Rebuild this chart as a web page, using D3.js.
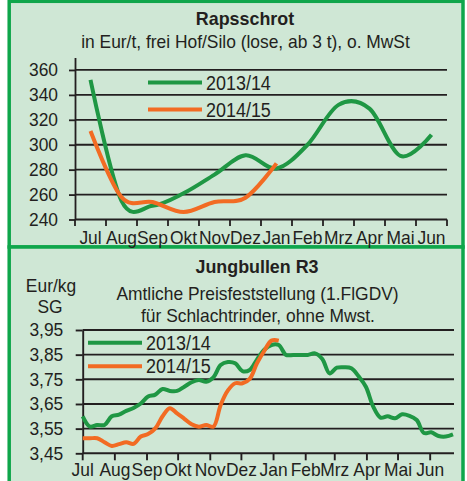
<!DOCTYPE html>
<html>
<head>
<meta charset="utf-8">
<script src="https://cdn.jsdelivr.net/npm/d3@7/dist/d3.min.js"></script>
<style>
  body { margin: 0; background: #fff; }
  text { font-family: "Liberation Sans", Arial, sans-serif; fill: #231f20; }
</style>
</head>
<body>
<div id="chart"></div>
<script>
// month labels (same for both panels)
var monthLabels = ["Jul", "Aug", "Sep", "Okt", "Nov", "Dez", "Jan", "Feb", "Mrz", "Apr", "Mai", "Jun"];

// Rapsschrot, Eur/t, monthly
var raps1314 = [352, 255, 251, 261, 276, 291.5, 281, 300, 332, 329, 291, 308];
var raps1415 = [311, 258, 254, 246, 254, 257.5, 285];
var rapsTicks = [240, 260, 280, 300, 320, 340, 360];

// Jungbullen R3, Eur/kg SG, weekly from 1 Jul
var bull1314 = [3.60, 3.558, 3.565, 3.565, 3.60, 3.607, 3.622, 3.634, 3.652, 3.68,
    3.688, 3.711, 3.703, 3.703, 3.72, 3.738, 3.747, 3.74, 3.758, 3.808,
    3.82, 3.815, 3.783, 3.788, 3.83, 3.87, 3.889, 3.889, 3.849, 3.849,
    3.849, 3.849, 3.855, 3.832, 3.774, 3.797, 3.799, 3.795, 3.762, 3.72,
    3.64, 3.595, 3.60, 3.592, 3.608, 3.602, 3.585, 3.532, 3.535, 3.52,
    3.518, 3.527];
var bull1415 = [3.511, 3.511, 3.511, 3.495, 3.48, 3.487, 3.495, 3.488, 3.518, 3.528,
    3.551, 3.60, 3.633, 3.612, 3.59, 3.568, 3.558, 3.565, 3.558, 3.646,
    3.705, 3.734, 3.734, 3.752, 3.815, 3.865, 3.907, 3.907];
var bullTicks = [3.45, 3.55, 3.65, 3.75, 3.85, 3.95];

var seriesNames = ["2013/14", "2014/15"];

var frameColor = "#0fa64b";
var bgColor = "#cfe7d5";
var greenColor = "#1f9744";
var orangeColor = "#f26b23";
var inkColor = "#231f20";
var squeezeFactor = 0.94;

var svg = d3.select("#chart")
    .append("svg")
    .attr("width", 467)
    .attr("height", 481);

// squeeze text horizontally (narrow font look)
function squeeze(sel, k) {
    sel.each(function () {
        var w = this.getComputedTextLength();
        d3.select(this)
            .attr("textLength", w * (k || squeezeFactor))
            .attr("lengthAdjust", "spacingAndGlyphs");
    });
}

function addText(g, x, y, str, size, bold) {
    var t = g.append("text")
        .attr("x", x)
        .attr("y", y)
        .attr("text-anchor", "middle")
        .style("font-size", size + "px")
        .style("font-weight", bold ? "bold" : "normal")
        .text(str);
    squeeze(t);
    return t;
}

function legend(g, x1, x2, yTop, gap) {
    [greenColor, orangeColor].forEach(function (c, i) {
        var yy = yTop + i * gap;
        g.append("line")
            .attr("x1", x1).attr("x2", x2)
            .attr("y1", yy).attr("y2", yy)
            .attr("stroke", c)
            .attr("stroke-width", 4);
        var t = g.append("text")
            .attr("x", x2 + 4)
            .attr("y", yy + 7)
            .style("font-size", "19.5px")
            .text(seriesNames[i]);
        squeeze(t, 0.92);
    });
}

// frames
svg.append("rect")
    .attr("x", 9.2).attr("y", 1.3)
    .attr("width", 463 - 9.2).attr("height", 247 - 1.3)
    .attr("fill", bgColor)
    .attr("stroke", frameColor)
    .attr("stroke-width", 3.5);
svg.append("rect")
    .attr("x", 9.2).attr("y", 247)
    .attr("width", 463 - 9.2).attr("height", 245)
    .attr("fill", bgColor)
    .attr("stroke", frameColor)
    .attr("stroke-width", 3.5);

drawRaps();
drawBull();

function drawRaps() {
    var g = svg.append("g");

    var x = d3.scaleBand()
        .domain(monthLabels)
        .range([75, 447]);
    var y = d3.scaleLinear()
        .domain([240, 370])
        .range([219.5, 57.5]);

    // gridlines
    g.selectAll(".grid")
        .data(rapsTicks)
        .enter().append("line")
        .attr("x1", x.range()[0]).attr("x2", x.range()[1])
        .attr("y1", function (d) { return y(d); })
        .attr("y2", function (d) { return y(d); })
        .attr("stroke", inkColor)
        .attr("stroke-width", 1.8);

    // y axis
    var yAxis = g.append("g")
        .attr("transform", "translate(" + x.range()[0] + ",0)")
        .call(d3.axisLeft(y).tickValues(rapsTicks).tickSize(6).tickSizeOuter(0).tickPadding(11));
    yAxis.select(".domain").attr("stroke", inkColor).attr("stroke-width", 1.8);
    yAxis.selectAll(".tick line").attr("stroke", inkColor).attr("stroke-width", 1.8);
    yAxis.selectAll("text")
        .attr("fill", inkColor)
        .style("font-size", "18.5px")
        .style("font-family", "'Liberation Sans', Arial, sans-serif");
    squeeze(yAxis.selectAll("text"));

    // x ticks at band edges
    var edges = monthLabels.map(function (m) { return x(m); }).concat([x.range()[1]]);
    g.selectAll(".xtick")
        .data(edges)
        .enter().append("line")
        .attr("x1", function (d) { return d; }).attr("x2", function (d) { return d; })
        .attr("y1", y(240)).attr("y2", y(240) + 6.5)
        .attr("stroke", inkColor)
        .attr("stroke-width", 1.8);

    var xl = g.selectAll(".xlab")
        .data(monthLabels)
        .enter().append("text")
        .attr("x", function (d) { return x(d) + x.bandwidth() / 2; })
        .attr("y", 244)
        .attr("text-anchor", "middle")
        .style("font-size", "18.5px")
        .text(function (d) { return d; });
    squeeze(xl);

    // lines
    var line = d3.line()
        .x(function (d, i) { return x(monthLabels[i]) + x.bandwidth() / 2; })
        .y(function (d) { return y(d); })
        .curve(d3.curveCardinal.tension(0));

    g.append("path")
        .attr("d", line(raps1314))
        .attr("fill", "none")
        .attr("stroke", greenColor)
        .attr("stroke-width", 4);
    g.append("path")
        .attr("d", line(raps1415))
        .attr("fill", "none")
        .attr("stroke", orangeColor)
        .attr("stroke-width", 4);

    legend(g, 148, 202, 82.5, 27);

    addText(g, 245, 25, "Rapsschrot", 19, true);
    addText(g, 245.5, 48, "in Eur/t, frei Hof/Silo (lose, ab 3 t), o. MwSt", 18.5, false);
}

function drawBull() {
    var g = svg.append("g");

    var start = new Date(2013, 6, 1);
    var dates = bull1314.map(function (d, i) { return d3.timeDay.offset(start, 7 * i); });

    var x = d3.scaleTime()
        .domain([start, dates[dates.length - 1]])
        .range([82.7, 453]);
    var y = d3.scaleLinear()
        .domain([3.45, 3.95])
        .range([453.3, 330]);

    var fmt = d3.formatLocale({ decimal: ",", thousands: ".", grouping: [3], currency: ["", " €"] }).format(".2f");

    g.selectAll(".grid")
        .data(bullTicks)
        .enter().append("line")
        .attr("x1", x.range()[0]).attr("x2", 454)
        .attr("y1", function (d) { return y(d); })
        .attr("y2", function (d) { return y(d); })
        .attr("stroke", inkColor)
        .attr("stroke-width", 1.9);

    var yAxis = g.append("g")
        .attr("transform", "translate(" + x.range()[0] + ",0)")
        .call(d3.axisLeft(y).tickValues(bullTicks).tickFormat(fmt).tickSize(7).tickSizeOuter(0).tickPadding(12.4));
    yAxis.select(".domain").attr("stroke", inkColor).attr("stroke-width", 1.9);
    yAxis.selectAll(".tick line").attr("stroke", inkColor).attr("stroke-width", 1.9);
    yAxis.selectAll("text")
        .attr("fill", inkColor)
        .style("font-size", "18.5px")
        .style("font-family", "'Liberation Sans', Arial, sans-serif");
    squeeze(yAxis.selectAll("text"));

    // month ticks on the date axis
    var months = d3.timeMonth.range(start, dates[dates.length - 1]);
    g.selectAll(".xtick")
        .data(months)
        .enter().append("line")
        .attr("x1", function (d) { return x(d); }).attr("x2", function (d) { return x(d); })
        .attr("y1", y(3.45)).attr("y2", y(3.45) + 7)
        .attr("stroke", inkColor)
        .attr("stroke-width", 1.9);

    var xl = g.selectAll(".xlab")
        .data(months)
        .enter().append("text")
        .attr("x", function (d) { return x(d); })
        .attr("y", 476)
        .attr("text-anchor", "middle")
        .style("font-size", "18.5px")
        .text(function (d, i) { return monthLabels[i]; });
    squeeze(xl);

    var line = d3.line()
        .x(function (d, i) { return x(dates[i]); })
        .y(function (d) { return y(d); })
        .curve(d3.curveCatmullRom.alpha(0.5));

    g.append("path")
        .attr("d", line(bull1314))
        .attr("fill", "none")
        .attr("stroke", greenColor)
        .attr("stroke-width", 4);
    g.append("path")
        .attr("d", line(bull1415))
        .attr("fill", "none")
        .attr("stroke", orangeColor)
        .attr("stroke-width", 4);

    legend(g, 88, 142, 342.7, 23.5);

    addText(g, 257, 273, "Jungbullen R3", 19, true);
    addText(g, 51, 292, "Eur/kg", 18.5, false);
    addText(g, 50, 313, "SG", 18.5, false);
    addText(g, 257.5, 300, "Amtliche Preisfeststellung (1.FlGDV)", 18.5, false);
    addText(g, 258, 321.5, "für Schlachtrinder, ohne Mwst.", 18.5, false);
}
</script>
</body>
</html>
